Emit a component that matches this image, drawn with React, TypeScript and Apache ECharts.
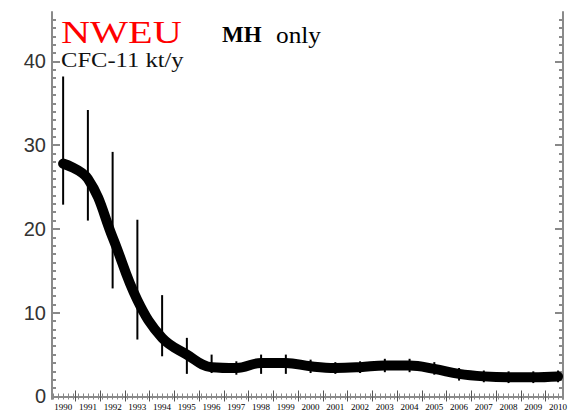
import React, { useEffect, useRef } from "react";
import * as echarts from "echarts";

const years = [1990, 1991, 1992, 1993, 1994, 1995, 1996, 1997, 1998, 1999, 2000, 2001, 2002, 2003, 2004, 2005, 2006, 2007, 2008, 2009, 2010];
const emissions = [27.8, 26.0, 19.0, 11.5, 7.0, 5.0, 3.5, 3.4, 4.0, 4.0, 3.6, 3.4, 3.5, 3.7, 3.7, 3.3, 2.7, 2.4, 2.3, 2.3, 2.4];
const errLow = [22.9, 21.0, 12.9, 6.8, 4.8, 2.7, 2.8, 2.6, 2.7, 2.7, 2.8, 2.7, 2.8, 2.9, 2.9, 2.6, 1.9, 1.7, 1.6, 1.6, 1.7];
const errHigh = [38.2, 34.2, 29.2, 21.1, 12.1, 7.0, 5.0, 4.2, 5.0, 5.0, 4.4, 4.1, 4.2, 4.5, 4.5, 4.1, 3.4, 3.1, 3.0, 3.0, 3.1];
const yTickLabels = [0, 10, 20, 30, 40];

const X_MIN = 1989.55;
const X_MAX = 2010.2;
const Y_MIN = -0.3;
const Y_MAX = 45.9;

export default function App() {
  const ref = useRef<HTMLDivElement>(null);
  useEffect(() => {
    if (!ref.current) return;
    const chart = echarts.init(ref.current, null, { renderer: "svg" });
    const xMajor: number[] = [];
    for (let i = 0; i < years.length - 1; i++) xMajor.push(years[i] + 0.5);
    const xMinor: number[] = [];
    for (let v = 1989.6; v <= X_MAX; v += 0.2) xMinor.push(Math.round(v * 10) / 10);
    const yMinor: number[] = [];
    for (let v = 0; v <= 45; v += 1) yMinor.push(v);
    const frame = { lineStyle: { color: "#8a8a8a", width: 2 } };
    const xBase = { type: "value", min: X_MIN, max: X_MAX, splitLine: { show: false } };
    const yBase = { type: "value", min: Y_MIN, max: Y_MAX, splitLine: { show: false } };

    const errData = years.map((y, i) => [y, errLow[i], errHigh[i]]);
    const lineData = years.map((y, i) => [y, emissions[i]]);

    chart.setOption({
      animation: false,
      backgroundColor: "#fff",
      grid: { left: 52, right: 12, top: 12, bottom: 19 },
      xAxis: [
        {
          ...xBase,
          position: "bottom",
          axisLine: { show: true, ...frame },
          axisTick: { show: true, inside: true, length: 6, customValues: xMajor, lineStyle: { color: "#555", width: 1 } },
          axisLabel: {
            show: true,
            customValues: years,
            formatter: (v: number) => String(Math.round(v)),
            fontSize: 9,
            fontFamily: "Liberation Serif",
            color: "#000",
            margin: 3,
          },
        },
        {
          ...xBase,
          position: "bottom",
          axisLine: { show: false },
          axisTick: { show: true, inside: true, length: 3, customValues: xMinor, lineStyle: { color: "#888", width: 1 } },
          axisLabel: { show: false },
        },
        {
          ...xBase,
          position: "top",
          axisLine: { show: true, ...frame },
          axisTick: { show: true, inside: true, length: 5, customValues: xMajor, lineStyle: { color: "#555", width: 1 } },
          axisLabel: { show: false },
        },
        {
          ...xBase,
          position: "top",
          axisLine: { show: false },
          axisTick: { show: true, inside: true, length: 3, customValues: xMinor, lineStyle: { color: "#888", width: 1 } },
          axisLabel: { show: false },
        },
      ],
      yAxis: [
        {
          ...yBase,
          position: "left",
          axisLine: { show: true, ...frame },
          axisTick: { show: true, inside: true, length: 8, customValues: yTickLabels, lineStyle: { color: "#888", width: 2 } },
          axisLabel: {
            show: true,
            customValues: yTickLabels,
            fontSize: 20,
            fontFamily: "Liberation Sans",
            color: "#333",
            margin: 6,
          },
        },
        {
          ...yBase,
          position: "left",
          axisLine: { show: false },
          axisTick: { show: true, inside: true, length: 4, customValues: yMinor, lineStyle: { color: "#8a8a8a", width: 2 } },
          axisLabel: { show: false },
        },
        {
          ...yBase,
          position: "right",
          axisLine: { show: true, ...frame },
          axisTick: { show: true, inside: true, length: 8, customValues: yTickLabels, lineStyle: { color: "#888", width: 2 } },
          axisLabel: { show: false },
        },
        {
          ...yBase,
          position: "right",
          axisLine: { show: false },
          axisTick: { show: true, inside: true, length: 4, customValues: yMinor, lineStyle: { color: "#8a8a8a", width: 2 } },
          axisLabel: { show: false },
        },
      ],
      series: [
        {
          type: "custom",
          xAxisIndex: 0,
          yAxisIndex: 0,
          data: errData,
          encode: { x: 0, y: [1, 2] },
          z: 2,
          renderItem: (params: any, api: any) => {
            const x = api.value(0);
            const lo = api.coord([x, api.value(1)]);
            const hi = api.coord([x, api.value(2)]);
            return {
              type: "line",
              shape: { x1: lo[0], y1: lo[1], x2: hi[0], y2: hi[1] },
              style: { stroke: "#000", lineWidth: 2 },
            };
          },
        },
        {
          type: "line",
          xAxisIndex: 0,
          yAxisIndex: 0,
          data: lineData,
          smooth: 0.4,
          showSymbol: false,
          symbol: "none",
          z: 3,
          lineStyle: { color: "#000", width: 10, cap: "round", join: "round" },
        },
      ],
      graphic: [
        {
          type: "text",
          x: 61,
          y: 17,
          scaleX: 1.3,
          style: { text: "NWEU", fill: "#ff0000", font: "31px 'Liberation Serif'" },
        },
        {
          type: "text",
          x: 222,
          y: 23,
          style: { text: "MH", fill: "#000", font: "bold 23px 'Liberation Serif'" },
        },
        {
          type: "text",
          x: 276,
          y: 23,
          scaleX: 1.1,
          style: { text: "only", fill: "#000", font: "23px 'Liberation Serif'" },
        },
        {
          type: "text",
          x: 61,
          y: 50,
          scaleX: 1.17,
          style: { text: "CFC-11 kt/y", fill: "#111", font: "21px 'Liberation Serif'" },
        },
      ],
    });
    return () => chart.dispose();
  }, []);
  return <div ref={ref} style={{ width: 575, height: 418, position: "absolute", left: 0, top: 0 }} />;
}
